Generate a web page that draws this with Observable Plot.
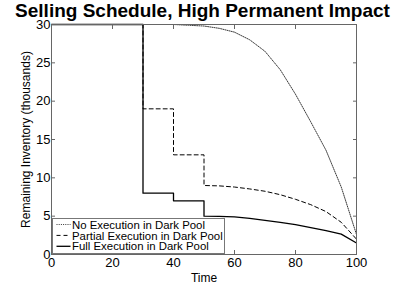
<!DOCTYPE html>
<html>
<head>
<meta charset="utf-8">
<script src="https://cdn.jsdelivr.net/npm/d3@7"></script>
<script src="https://cdn.jsdelivr.net/npm/@observablehq/plot@0.6"></script>
<style>
  html, body { margin: 0; padding: 0; background: white; }
</style>
</head>
<body>
<div id="chart"></div>
<script>
const titleText = "Selling Schedule, High Permanent Impact";
const xLabel = "Time";
const yLabel = "Remaining Inventory (thousands)";
const xTicks = [0, 20, 40, 60, 80, 100];
const yTicks = [0, 5, 10, 15, 20, 25, 30];

const seriesNames = ["No Execution in Dark Pool", "Partial Execution in Dark Pool", "Full Execution in Dark Pool"];

const noExecT = [0, 10, 20, 30, 40, 45, 50, 55, 60, 65, 70, 75, 80, 85, 90, 95, 100];
const noExecV = [30, 30, 30, 30, 30, 29.9, 29.8, 29.5, 29.0, 28.0, 26.5, 24.1, 20.9, 17.3, 13.6, 8.8, 2.6];

const partialT = [0, 30, 30, 40, 40, 50, 50, 55, 60, 65, 70, 75, 80, 85, 90, 95, 100];
const partialV = [30, 30, 19, 19, 13, 13, 9, 8.95, 8.8, 8.55, 8.25, 7.8, 7.2, 6.5, 5.6, 4.2, 2.0];

const fullT = [0, 30, 30, 40, 40, 50, 50, 55, 60, 65, 70, 75, 80, 85, 90, 95, 100];
const fullV = [30, 30, 8, 8, 7, 7, 5, 4.97, 4.9, 4.7, 4.45, 4.2, 3.9, 3.5, 3.1, 2.65, 1.5];

const rows = (ts, vs) => ts.map((t, i) => ({t, v: vs[i]}));
const noExec = rows(noExecT, noExecV);
const partial = rows(partialT, partialV);
const full = rows(fullT, fullV);

const lineStyles = [
  {stroke: "#222", strokeWidth: 0.9, strokeDasharray: "1,1.2"},
  {stroke: "black", strokeWidth: 1, strokeDasharray: "4,3"},
  {stroke: "black", strokeWidth: 1.3, strokeDasharray: null}
];

const fontFamily = "'Liberation Sans', Arial, Helvetica, sans-serif";

function legend(index, scales, values, dimensions) {
  const {marginLeft, height, marginBottom} = dimensions;
  const bx = marginLeft + 1.5, bw = 172, bh = 35;
  const by = height - marginBottom - 0.5 - bh;
  const g = d3.create("svg:g").attr("font-family", fontFamily).attr("text-anchor", "start");
  g.append("rect").attr("x", bx).attr("y", by).attr("width", bw).attr("height", bh)
    .attr("fill", "white").attr("stroke", "#777").attr("stroke-width", 1);
  seriesNames.forEach((name, i) => {
    const cy = by + 6 + i * 10.9;
    const s = lineStyles[i];
    g.append("line").attr("x1", bx + 4).attr("x2", bx + 18).attr("y1", cy).attr("y2", cy)
      .attr("stroke", s.stroke).attr("stroke-width", s.strokeWidth)
      .attr("stroke-dasharray", s.strokeDasharray);
    g.append("text").attr("x", bx + 19.5).attr("y", cy).attr("dy", "0.36em")
      .attr("text-anchor", "start")
      .attr("font-size", 11.4).attr("fill", "black").text(name);
  });
  return g.node();
}

const chart = Plot.plot({
  width: 393,
  height: 287,
  marginLeft: 51,
  marginRight: 37,
  marginTop: 24,
  marginBottom: 33,
  style: {fontFamily, fontSize: "13px", color: "black", background: "white"},
  x: {domain: [0, 100]},
  y: {domain: [0, 30]},
  marks: [
    Plot.line(noExec, {x: "t", y: "v", ...lineStyles[0]}),
    Plot.line(partial, {x: "t", y: "v", ...lineStyles[1]}),
    Plot.line(full, {x: "t", y: "v", ...lineStyles[2]}),
    Plot.frame({stroke: "#666", strokeWidth: 1}),
    Plot.axisX({ticks: xTicks, tickSize: -4, tickPadding: 7, label: null, stroke: "#666", fontSize: 13}),
    Plot.axisX({anchor: "top", ticks: xTicks, tickSize: -4, tickFormat: () => "", label: null, stroke: "#666"}),
    Plot.axisY({ticks: yTicks, tickSize: -4, tickPadding: 5, label: null, stroke: "#666", fontSize: 13}),
    Plot.axisY({anchor: "right", ticks: yTicks, tickSize: -4, tickFormat: () => "", label: null, stroke: "#666"}),
    legend,
    Plot.text([titleText], {frameAnchor: "top", dx: -1.5, dy: -7.5, lineAnchor: "bottom", textAnchor: "middle", fontSize: 19, fontWeight: "bold", fill: "black"}),
    Plot.text([yLabel], {frameAnchor: "left", dx: -25, rotate: -90, textAnchor: "middle", lineAnchor: "middle", fontSize: 12, fill: "black"}),
    Plot.text([xLabel], {frameAnchor: "bottom", dy: 27, lineAnchor: "bottom", textAnchor: "middle", fontSize: 12, fill: "black"})
  ]
});
document.getElementById("chart").appendChild(chart);
</script>
</body>
</html>
